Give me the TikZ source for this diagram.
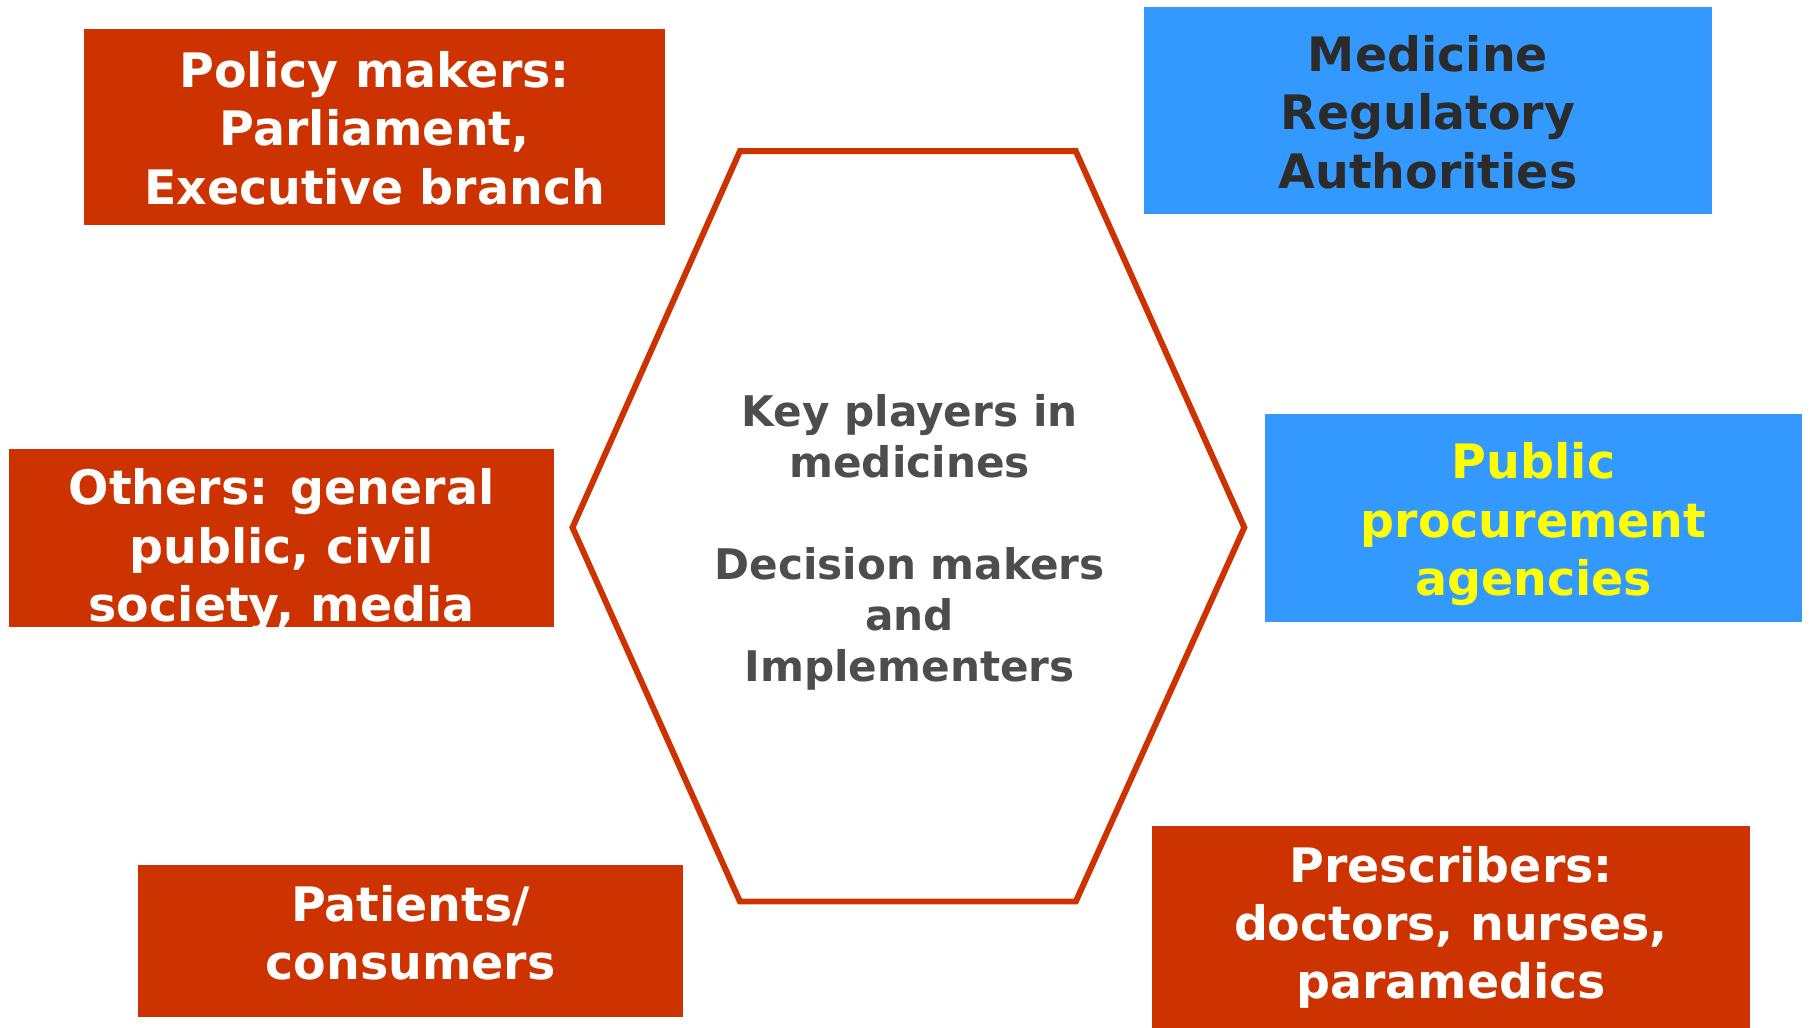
\documentclass[tikz,border=0pt]{standalone}
\usepackage{fontspec}
\setmainfont{DejaVu Sans}
\usetikzlibrary{positioning}
\definecolor{rustred}{HTML}{CC3300}
\definecolor{skyblue}{HTML}{3399FF}
\definecolor{centregray}{HTML}{4D4D4D}
\definecolor{inkgray}{HTML}{2B2B2B}
\definecolor{lemon}{HTML}{FFFF00}
\tikzset{
  playerbox/.style={fill=rustred, inner sep=0pt},
  agencybox/.style={fill=skyblue, inner sep=0pt},
  playertext/.style={text=white, align=center, inner sep=0pt,
    font=\bfseries\fontsize{13.5}{16.6}\selectfont},
  hexline/.style={draw=rustred, line width=1.7pt, line join=miter},
}
\begin{document}
\begin{tikzpicture}[x=0.01cm,y=-0.01cm]
\useasboundingbox (0,0) rectangle (1810,1028);
% hexagon
\coordinate (hexL) at (572.5,527.5);
\coordinate (hexTL) at (739.9,151.2);
\coordinate (hexTR) at (1075.8,151.2);
\coordinate (hexR) at (1244.3,527.5);
\coordinate (hexBR) at (1075.8,901.5);
\coordinate (hexBL) at (739.9,901.5);
\draw[hexline] (hexL) -- (hexTL) -- (hexTR) -- (hexR) -- (hexBR) -- (hexBL) -- cycle;
\node[align=center, text=centregray, font=\bfseries\fontsize{12}{14.5}\selectfont]
  (centre) at (909.6,542.5) {Key players in\\ medicines\\[14.5pt] Decision makers\\ and\\ Implementers};
% boxes
\node[playerbox, minimum width=5.81cm, minimum height=1.96cm] (policy) at (374.6,127) {};
\node[agencybox, minimum width=5.68cm, minimum height=2.07cm] (regulators) at (1427.9,110.2) {};
\node[playerbox, minimum width=5.45cm, minimum height=1.78cm] (others) at (281.7,537.9) {};
\node[agencybox, minimum width=5.37cm, minimum height=2.08cm] (procurement) at (1533.5,518.3) {};
\node[playerbox, minimum width=5.44cm, minimum height=1.52cm] (patients) at (410.4,940.8) {};
\node[playerbox, minimum width=5.98cm, minimum height=2.02cm] (prescribers) at (1451,927.3) {};
% texts
\node[playertext] (policytext) at ([yshift=-0.01cm]policy.center)
  {Policy makers:\\ Parliament,\\ Executive branch};
\node[playertext, text=inkgray] (regulatorstext) at ([yshift=-0.02cm]regulators.center)
  {Medicine\\ Regulatory\\ Authorities};
\node[playertext] (otherstext) at ([yshift=-0.125cm]others.center)
  {Others: general\\ public, civil\\ society, media};
\node[playertext, text=lemon] (procurementtext) at ([yshift=-0.06cm]procurement.center)
  {Public\\ procurement\\ agencies};
\node[playertext] (patientstext) at ([yshift=0.08cm]patients.center)
  {Patients/\\ consumers};
\node[playertext] (prescriberstext) at (prescribers.center)
  {Prescribers:\\ doctors, nurses,\\ paramedics};
\end{tikzpicture}
\end{document}
